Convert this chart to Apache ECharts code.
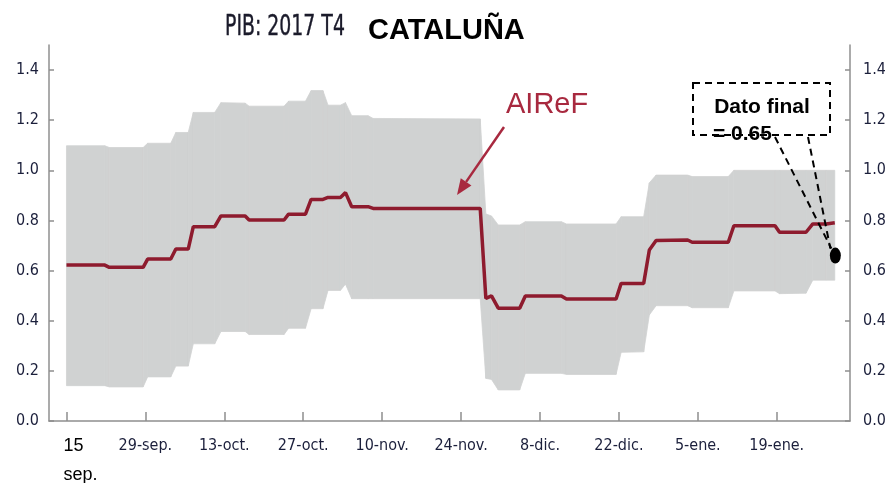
<!DOCTYPE html>
<html>
<head>
<meta charset="utf-8">
<script src="https://cdn.jsdelivr.net/npm/echarts@6/dist/echarts.min.js"></script>
<style>
html,body{margin:0;padding:0;background:#fff;}
#chart{width:885px;height:483px;}
</style>
</head>
<body>
<div id="chart"></div>
<script>
// Days counted from 15 September 2017
const DAYS = [0, 6.8, 7.6, 13.6, 14.4, 18.5, 19.4, 21.6, 22.5, 26.3, 27.4, 31.7, 32.4, 38.6, 39.4, 42.4, 43.4, 45.5, 46.4, 48.6, 49.5, 50.6, 53.5, 54.4, 73.4, 74.4, 75.4, 76.6, 80.4, 81.4, 87.8, 88.7, 97.5, 98.4, 102.4, 103.4, 104.6, 110.2, 111, 117.4, 118.4, 125.7, 126.5, 131.2, 132.4, 134.8, 136.3];
const UPPER = [1.098, 1.098, 1.091, 1.091, 1.108, 1.108, 1.151, 1.151, 1.231, 1.231, 1.270, 1.268, 1.256, 1.256, 1.276, 1.276, 1.318, 1.318, 1.260, 1.260, 1.270, 1.218, 1.218, 1.207, 1.205, 0.826, 0.818, 0.782, 0.782, 0.795, 0.795, 0.786, 0.786, 0.815, 0.815, 0.950, 0.981, 0.981, 0.975, 0.975, 1.000, 1.000, 1.000, 1.000, 1.000, 1.000, 1.000];
const LOWER = [0.141, 0.141, 0.136, 0.136, 0.176, 0.176, 0.219, 0.219, 0.308, 0.308, 0.357, 0.357, 0.345, 0.345, 0.370, 0.370, 0.448, 0.448, 0.521, 0.521, 0.546, 0.488, 0.488, 0.488, 0.488, 0.170, 0.166, 0.124, 0.124, 0.190, 0.190, 0.186, 0.186, 0.274, 0.276, 0.423, 0.460, 0.460, 0.452, 0.452, 0.519, 0.519, 0.508, 0.510, 0.562, 0.562, 0.562];
const AIREF = [0.622, 0.622, 0.613, 0.613, 0.646, 0.646, 0.686, 0.686, 0.775, 0.775, 0.818, 0.818, 0.802, 0.802, 0.825, 0.825, 0.884, 0.884, 0.892, 0.892, 0.911, 0.855, 0.855, 0.848, 0.848, 0.489, 0.499, 0.450, 0.450, 0.499, 0.499, 0.487, 0.487, 0.549, 0.549, 0.682, 0.720, 0.722, 0.713, 0.713, 0.779, 0.779, 0.753, 0.753, 0.786, 0.786, 0.791];
const X_TICK_DAYS = [0, 14, 28, 42, 56, 70, 84, 98, 112, 126];
const X_TICK_LABELS = ['15 sep.', '29-sep.', '13-oct.', '27-oct.', '10-nov.', '24-nov.', '8-dic.', '22-dic.', '5-ene.', '19-ene.'];
const Y_TICKS = [0, 0.2, 0.4, 0.6, 0.8, 1.0, 1.2, 1.4];
const FINAL_DAY = 136.4;
const FINAL_VALUE = 0.66;

const TICK_FONT = "'Liberation Sans Narrow', 'DejaVu Sans Condensed', sans-serif";
const TICK_COLOR = '#1b1f3b';
const AXIS_COLOR = '#8f8f8f';
const RED = '#8e1b2e';
const LABEL_RED = '#a8293f';
const BAND = '#d0d2d2';

// band segments: [x0, x1, lo0, hi0, lo1, hi1]
const bandSegments = DAYS.slice(0, -1).map((d, i) => [d, DAYS[i + 1], LOWER[i], UPPER[i], LOWER[i + 1], UPPER[i + 1]]);
const lineData = DAYS.map((d, i) => [d, AIREF[i]]);

function yAxisCfg(pos, margin) {
  return {
    type: 'value', position: pos, min: 0, max: 1.5,
    axisLine: { show: true, onZero: false, lineStyle: { color: AXIS_COLOR, width: 1.5 } },
    axisTick: { show: true, inside: true, length: 5, customValues: Y_TICKS, lineStyle: { color: AXIS_COLOR, width: 1.5 } },
    axisLabel: { customValues: Y_TICKS, margin: margin, formatter: v => v.toFixed(1), fontFamily: TICK_FONT, fontSize: 16, color: TICK_COLOR },
    splitLine: { show: false }
  };
}

const FIRST_FONT = "'Liberation Sans', Arial, sans-serif";
const chart = echarts.init(document.getElementById('chart'));
chart.setOption({
  animation: false,
  grid: { left: 49, right: 35, top: 45, bottom: 62, containLabel: false, outerBoundsMode: 'none' },
  xAxis: {
    type: 'value', min: -3.1, max: 139,
    axisLine: { show: true, onZero: false, lineStyle: { color: AXIS_COLOR, width: 1.5 } },
    axisTick: { show: true, inside: true, length: 9, customValues: X_TICK_DAYS, lineStyle: { color: AXIS_COLOR, width: 1.5 } },
    axisLabel: {
      customValues: X_TICK_DAYS, margin: 17,
      fontFamily: TICK_FONT, fontSize: 16, color: TICK_COLOR,
      formatter: v => {
        const i = Math.round(v / 14);
        if (i === 0) return '{a|15}\n{b|sep.}';
        return X_TICK_LABELS[i];
      },
      rich: {
        a: { fontFamily: FIRST_FONT, fontSize: 18, color: '#000', lineHeight: 17, align: 'left', padding: [0, 0, 0, 28] },
        b: { fontFamily: FIRST_FONT, fontSize: 18, color: '#000', lineHeight: 41, align: 'left', padding: [0, 0, 0, 28] }
      }
    },
    splitLine: { show: false }
  },
  yAxis: [yAxisCfg('left', 10), yAxisCfg('right', 13)],
  series: [
    {
      type: 'custom', name: 'band', data: bandSegments, silent: true, z: 1,
      encode: { x: [0, 1], y: [2, 3, 4, 5] },
      renderItem: (params, api) => {
        const p0 = api.coord([api.value(0), api.value(2)]);
        const p1 = api.coord([api.value(0), api.value(3)]);
        const p2 = api.coord([api.value(1), api.value(5)]);
        const p3 = api.coord([api.value(1), api.value(4)]);
        return { type: 'polygon', shape: { points: [p0, p1, p2, p3] }, style: { fill: BAND, stroke: BAND, lineWidth: 0.8 } };
      }
    },
    { type: 'line', name: 'AIReF', data: lineData, symbol: 'none', lineStyle: { color: RED, width: 3.5 }, z: 3 },
    { type: 'scatter', name: 'Dato final', data: [[FINAL_DAY, FINAL_VALUE]], symbol: 'circle', symbolSize: [11, 16], itemStyle: { color: '#000', opacity: 1 }, z: 5 }
  ]
});

// annotations
const dot = chart.convertToPixel({ gridIndex: 0 }, [FINAL_DAY, FINAL_VALUE]);
const tip = [457, 195], tail = [504, 127];
const dx = tip[0] - tail[0], dy = tip[1] - tail[1], L = Math.hypot(dx, dy);
const ux = dx / L, uy = dy / L, hl = 16, hw = 6.5;
const base = [tip[0] - ux * hl, tip[1] - uy * hl];
const dash = { stroke: '#000', lineWidth: 2, lineDash: [7, 5] };

chart.setOption({
  graphic: [
    { type: 'text', z: 100, x: 225, y: 28, scaleY: 1.35, style: { text: 'PIB: 2017 T4', font: "21px 'Liberation Sans Narrow', 'DejaVu Sans Condensed', sans-serif", fill: '#1a1a2a', stroke: '#1a1a2a', lineWidth: 0.3, verticalAlign: 'middle', align: 'left' } },
    { type: 'text', z: 100, x: 368, y: 31, style: { text: 'CATALUÑA', font: "bold 29px 'Liberation Sans', Arial, sans-serif", fill: '#000', verticalAlign: 'middle', align: 'left' } },
    { type: 'text', z: 100, x: 506, y: 105, style: { text: 'AIReF', font: "29px 'Liberation Sans', Arial, sans-serif", fill: LABEL_RED, verticalAlign: 'middle', align: 'left' } },
    { type: 'line', z: 100, shape: { x1: tail[0], y1: tail[1], x2: base[0], y2: base[1] }, style: { stroke: LABEL_RED, lineWidth: 2.5 } },
    { type: 'polygon', z: 100, shape: { points: [tip, [base[0] + uy * hw, base[1] - ux * hw], [base[0] - uy * hw, base[1] + ux * hw]] }, style: { fill: LABEL_RED } },
    { type: 'rect', z: 100, shape: { x: 693, y: 83, width: 137, height: 52 }, style: Object.assign({ fill: 'none' }, dash) },
    { type: 'text', z: 101, x: 762, y: 107, style: { text: 'Dato final', font: "bold 21px 'Liberation Sans', Arial, sans-serif", fill: '#000', verticalAlign: 'middle', align: 'center' } },
    { type: 'text', z: 101, x: 713, y: 134, style: { text: '= 0.65', font: "bold 21px 'Liberation Sans', Arial, sans-serif", fill: '#000', verticalAlign: 'middle', align: 'left' } },
    { type: 'line', z: 100, shape: { x1: 775, y1: 137, x2: dot[0] - 4, y2: dot[1] - 7 }, style: dash },
    { type: 'line', z: 100, shape: { x1: 808, y1: 137, x2: dot[0] - 5, y2: dot[1] - 7 }, style: dash }
  ]
});
</script>
</body>
</html>
